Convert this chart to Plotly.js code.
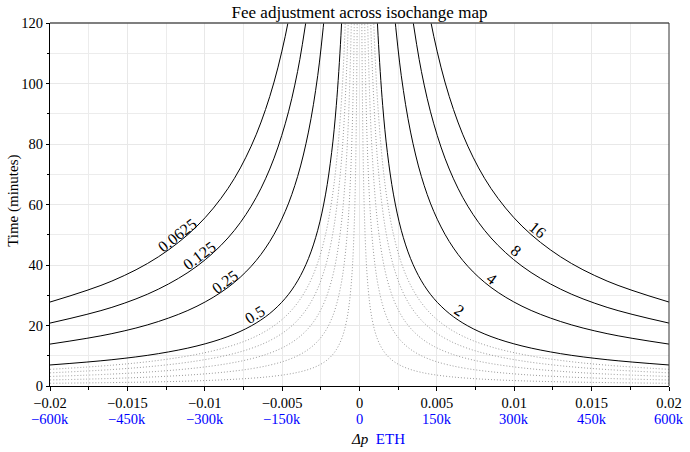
<!DOCTYPE html>
<html>
<head>
<meta charset="utf-8">
<script src="https://cdn.plot.ly/plotly-3.0.1.min.js"></script>
<style>html,body{margin:0;padding:0;background:#fff;}#chart{width:690px;height:452px;}</style>
</head>
<body>
<div id="chart"></div>
<script>
// ---- data ----
// |Δp| sample positions (positive side) and their mirror (negative side)
const DP_POS = [0.02, 0.016, 0.013, 0.0105, 0.0085, 0.007, 0.0058, 0.0048, 0.004, 0.0033, 0.0027, 0.0022, 0.0018, 0.0015, 0.0012, 0.001, 0.0008, 0.00065, 0.0005, 0.0004, 0.0003, 0.00022, 0.00015, 0.00012];
const DP_NEG = [-0.02, -0.016, -0.013, -0.0105, -0.0085, -0.007, -0.0058, -0.0048, -0.004, -0.0033, -0.0027, -0.0022, -0.0018, -0.0015, -0.0012, -0.001, -0.0008, -0.00065, -0.0005, -0.0004, -0.0003, -0.00022, -0.00015, -0.00012];

// Time (minutes) of each isochange curve at those |Δp| (same on both sides)
const T_16 = [27.75, 34.69, 42.69, 52.86, 65.29, 79.29, 95.69, 115.6, 138.75];
const T_8  = [20.8, 26.0, 32.0, 39.62, 48.94, 59.43, 71.72, 86.67, 104.0, 126.06];
const T_4  = [13.85, 17.31, 21.31, 26.38, 32.59, 39.57, 47.76, 57.71, 69.25, 83.94, 102.6, 125.9];
const T_2  = [6.95, 8.69, 10.69, 13.24, 16.35, 19.86, 23.97, 28.96, 34.75, 42.12, 51.48, 63.18, 77.22, 92.67, 115.8, 139];
const T_D1 = [5.5, 6.88, 8.46, 10.48, 12.94, 15.71, 18.97, 22.92, 27.5, 33.33, 40.74, 50.0, 61.11, 73.33, 91.67, 110.0, 137.5];
const T_D2 = [4.35, 5.44, 6.69, 8.29, 10.24, 12.43, 15.0, 18.13, 21.75, 26.36, 32.22, 39.55, 48.33, 58.0, 72.5, 87.0, 108.75, 133.8];
const T_D3 = [3.15, 3.94, 4.85, 6.0, 7.41, 9.0, 10.86, 13.13, 15.75, 19.09, 23.33, 28.64, 35.0, 42.0, 52.5, 63.0, 78.75, 96.92, 126];
const T_D4 = [2.0, 2.5, 3.08, 3.81, 4.71, 5.71, 6.9, 8.33, 10.0, 12.12, 14.81, 18.18, 22.22, 26.67, 33.33, 40.0, 50.0, 61.54, 80.0, 100.0, 133.3];
const T_D5 = [0.9, 1.13, 1.38, 1.71, 2.12, 2.57, 3.1, 3.75, 4.5, 5.45, 6.67, 8.18, 10.0, 12.0, 15.0, 18.0, 22.5, 27.69, 36.0, 45.0, 60.0, 81.82, 120, 150];

// curve labels (sitting just above their curves)
const LABELS_LEFT  = ['0.0625', '0.125', '0.25', '0.5'];
const LABELS_RIGHT = ['16', '8', '4', '2'];
const LABEL_DP_LEFT  = [-0.01181, -0.01035, -0.00867, -0.00675];
const LABEL_T_LEFT   = [49.9, 43.3, 34.5, 23.5];
const LABEL_DP_RIGHT = [0.01151, 0.01011, 0.00854, 0.00645];
const LABEL_T_RIGHT  = [51.8, 44.7, 35.6, 24.8];

// axis ticks
const X_TICKS = [-0.02, -0.015, -0.01, -0.005, 0, 0.005, 0.01, 0.015, 0.02];
const X_TICK_TEXT = ['\u22120.02', '\u22120.015', '\u22120.01', '\u22120.005', '0', '0.005', '0.01', '0.015', '0.02'];
const ETH_TICK_TEXT = ['\u2212600k', '\u2212450k', '\u2212300k', '\u2212150k', '0', '150k', '300k', '450k', '600k'];
const Y_TICKS = [0, 20, 40, 60, 80, 100, 120];

// ---- build ----
const FONT = '"Liberation Serif", "Times New Roman", serif';
const solid = {color: '#000', width: 1, shape: 'spline', smoothing: 1};
const dotted = {color: '#9a9a9a', width: 1, dash: '1px,2px', shape: 'spline', smoothing: 1};

const curves = [
  [T_16, solid], [T_8, solid], [T_4, solid], [T_2, solid],
  [T_D1, dotted], [T_D2, dotted], [T_D3, dotted], [T_D4, dotted], [T_D5, dotted]
];
const traces = [];
curves.forEach(([T, style]) => {
  traces.push({x: DP_NEG.slice(0, T.length), y: T, type: 'scatter', mode: 'lines', line: style, hoverinfo: 'skip', showlegend: false});
  traces.push({x: DP_POS.slice(0, T.length), y: T, type: 'scatter', mode: 'lines', line: style, hoverinfo: 'skip', showlegend: false});
});

const leftAngles = [-38, -37, -36, -32];
const rightAngles = [39, 38.5, 36.5, 33];
const annotations = [];
LABELS_LEFT.forEach((t, i) => annotations.push({
  x: LABEL_DP_LEFT[i], y: LABEL_T_LEFT[i], xref: 'x', yref: 'y', text: t, showarrow: false,
  textangle: leftAngles[i], font: {family: FONT, size: 16, color: '#000'}
}));
LABELS_RIGHT.forEach((t, i) => annotations.push({
  x: LABEL_DP_RIGHT[i], y: LABEL_T_RIGHT[i], xref: 'x', yref: 'y', text: t, showarrow: false,
  textangle: rightAngles[i], font: {family: FONT, size: 16, color: '#000'}
}));
X_TICKS.forEach((v, i) => annotations.push({
  x: v, y: 0, xref: 'x', yref: 'paper', yanchor: 'middle', yshift: -33, text: ETH_TICK_TEXT[i],
  showarrow: false, font: {family: FONT, size: 14.5, color: '#0000ff'}
}));
annotations.push({
  x: 0.53, y: 0, xref: 'paper', yref: 'paper', yanchor: 'middle', yshift: -53,
  text: '<i>\u0394p</i>&nbsp;&nbsp;<span style="color:#0000ff">ETH</span>', showarrow: false,
  font: {family: FONT, size: 15, color: '#000'}
});
annotations.push({
  x: 0, y: 0.51, xref: 'paper', yref: 'paper', xanchor: 'center', yanchor: 'middle', xshift: -36,
  text: 'Time (minutes)', textangle: -90, showarrow: false,
  font: {family: FONT, size: 15, color: '#000'}
});

const layout = {
  width: 690, height: 452,
  margin: {l: 50, r: 21, t: 23, b: 66},
  paper_bgcolor: '#fff', plot_bgcolor: '#fff',
  font: {family: FONT, color: '#000', size: 14},
  title: {text: 'Fee adjustment across isochange map', font: {family: FONT, size: 17, color: '#000'},
          xref: 'paper', x: 0.5, xanchor: 'center', yref: 'container', y: 0.974, yanchor: 'middle'},
  xaxis: {
    range: [-0.02, 0.02], tickvals: X_TICKS, ticktext: X_TICK_TEXT,
    showgrid: true, gridcolor: '#e8e8e8', gridwidth: 1, zeroline: false,
    showline: true, linecolor: '#000', linewidth: 1,
    ticks: 'outside', ticklen: 4, tickcolor: '#000', tickfont: {family: FONT, size: 14.5, color: '#000'},
    minor: {dtick: 0.0025, tick0: 0, showgrid: true, gridcolor: '#ececec', ticks: 'outside', ticklen: 3, tickcolor: '#000'}
  },
  yaxis: {
    range: [0, 120], tickvals: Y_TICKS,
    showgrid: true, gridcolor: '#e8e8e8', gridwidth: 1, zeroline: false,
    showline: true, linecolor: '#000', linewidth: 1,
    ticks: 'outside', ticklen: 3, tickcolor: '#000', tickfont: {family: FONT, size: 14.5, color: '#000'},
    minor: {dtick: 10, tick0: 0, showgrid: true, gridcolor: '#ececec', ticks: 'outside', ticklen: 2, tickcolor: '#000'}
  },
  shapes: [
    {type: 'line', xref: 'paper', yref: 'paper', x0: 0, x1: 1, y0: 1, y1: 1, line: {color: '#555', width: 1.5}},
    {type: 'line', xref: 'paper', yref: 'paper', x0: 1, x1: 1, y0: 0, y1: 1, line: {color: '#333', width: 1}}
  ],
  annotations: annotations
};

Plotly.newPlot('chart', traces, layout, {displayModeBar: false, staticPlot: true});
</script>
</body>
</html>
